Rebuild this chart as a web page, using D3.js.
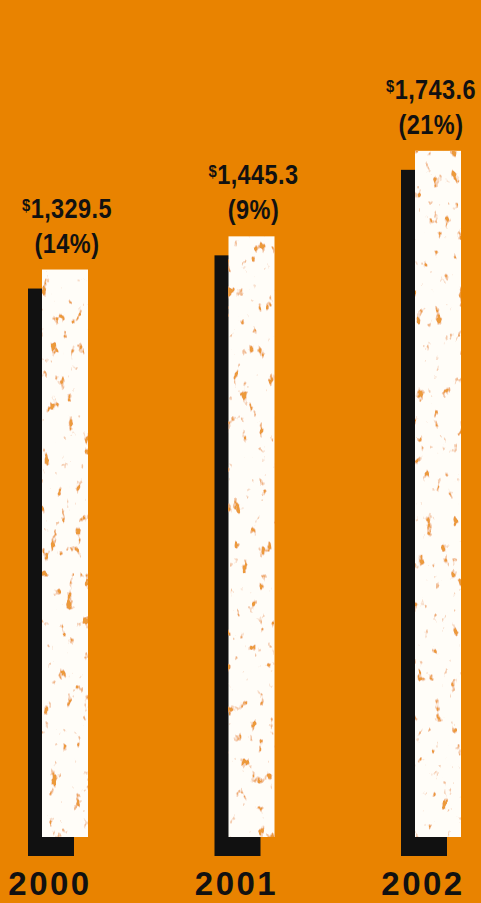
<!DOCTYPE html>
<html>
<head>
<meta charset="utf-8">
<script src="https://cdn.jsdelivr.net/npm/d3@7"></script>
<style>
  html, body { margin: 0; padding: 0; background: #e98300; }
  svg { display: block; }
</style>
</head>
<body>
<script>
// values ($ millions, growth)
let years = ["2000", "2001", "2002"];
let totals = [1329.5, 1445.3, 1743.6];
let growth = ["14%", "9%", "21%"];

let width = 481, height = 903;
let orange = "#e98300";

let svg = d3.select("body").append("svg")
    .attr("width", width)
    .attr("height", height);

svg.append("rect")
    .attr("width", width)
    .attr("height", height)
    .attr("fill", orange);

// grungy orange specks on the white bars
let defs = svg.append("defs");
let f = defs.append("filter")
    .attr("id", "grunge")
    .attr("x", 0).attr("y", 0).attr("width", 1).attr("height", 1);
f.append("feTurbulence")
    .attr("type", "fractalNoise")
    .attr("baseFrequency", "0.12 0.07")
    .attr("numOctaves", 3)
    .attr("seed", 7)
    .attr("result", "n");
f.append("feColorMatrix")
    .attr("in", "n")
    .attr("type", "matrix")
    .attr("values", "0 0 0 0 0  0 0 0 0 0  0 0 0 0 0  9 0 0 0 -5.8")
    .attr("result", "m");
f.append("feFlood").attr("flood-color", "#ec9a3a").attr("result", "o");
f.append("feComposite").attr("in", "o").attr("in2", "m").attr("operator", "in").attr("result", "spots");
let merge = f.append("feMerge");
merge.append("feMergeNode").attr("in", "SourceGraphic");
merge.append("feMergeNode").attr("in", "spots");

let data = years.map((y, i) => ({year: y, total: totals[i], growth: growth[i]}));

let barW = 46;
let x = d3.scalePoint().domain(years).range([42, 415]);
let y = d3.scaleLinear().domain([-650, 1750]).range([837, 149]);

let bars = svg.append("g").selectAll("g")
    .data(data)
    .join("g");

// black drop shadow
bars.append("rect")
    .attr("x", d => x(d.year) - 14)
    .attr("y", d => y(d.total) + 19)
    .attr("width", barW)
    .attr("height", d => y(-650) - y(d.total))
    .attr("fill", "#111");

// white bar
bars.append("rect")
    .attr("x", d => x(d.year))
    .attr("y", d => y(d.total))
    .attr("width", barW)
    .attr("height", d => y(-650) - y(d.total))
    .attr("fill", "#fffdf8")
    .attr("filter", "url(#grunge)");

// condensed look: squeeze Liberation Sans Bold horizontally
let squeeze = 0.87;
let labelX = (d, i) => x(d.year) + (i == 2 ? 16 : 25);

let amt = bars.append("text")
    .attr("transform", (d, i) => `translate(${labelX(d, i)},${y(d.total) - 52}) scale(${squeeze},1)`)
    .attr("text-anchor", "middle")
    .attr("font-family", "'Liberation Sans', Arial, sans-serif")
    .attr("font-weight", "bold")
    .attr("font-size", 27)
    .attr("letter-spacing", 0.5)
    .attr("fill", "#111");
amt.append("tspan")
    .attr("font-size", 17)
    .attr("dy", -7)
    .text("$");
amt.append("tspan")
    .attr("dy", 7)
    .text(d => d3.format(",.1f")(d.total));

bars.append("text")
    .attr("transform", (d, i) => `translate(${labelX(d, i)},${y(d.total) - 17}) scale(${squeeze},1)`)
    .attr("text-anchor", "middle")
    .attr("font-family", "'Liberation Sans', Arial, sans-serif")
    .attr("font-weight", "bold")
    .attr("font-size", 27)
    .attr("letter-spacing", 0.5)
    .attr("fill", "#111")
    .text(d => "(" + d.growth + ")");

// year labels
svg.append("g").selectAll("text")
    .data(data)
    .join("text")
    .attr("x", d => x(d.year) + 8)
    .attr("y", 895)
    .attr("text-anchor", "middle")
    .attr("font-family", "'Liberation Sans', Arial, sans-serif")
    .attr("font-weight", "bold")
    .attr("font-size", 33)
    .attr("letter-spacing", 2.5)
    .attr("fill", "#111")
    .text(d => d.year);
</script>
</body>
</html>
